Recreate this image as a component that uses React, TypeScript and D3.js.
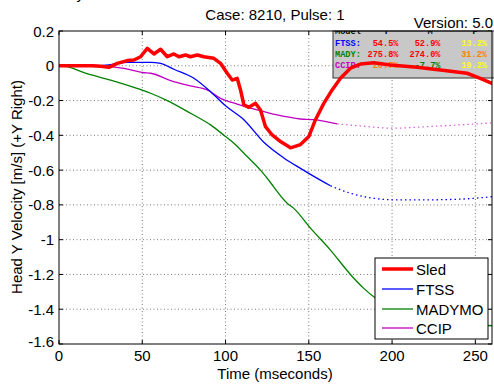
import React from "react";
import * as d3 from "d3";

const sledT = [0,10,20,25,30,35,41,45,49,53,57,61,65,69,72,76,79,83,87,93,97,101,104,107,109,111,114,118,121,124,128,133,139,145,150,154,159,164,169,175,181,189,199,215,229,245,253,261];
const sledV = [0,0,0,-0.003,-0.009,0.014,0.03,0.033,0.052,0.1,0.068,0.095,0.052,0.068,0.052,0.062,0.052,0.062,0.052,0.043,0.014,-0.043,-0.082,-0.072,-0.139,-0.225,-0.239,-0.216,-0.254,-0.35,-0.398,-0.436,-0.472,-0.453,-0.407,-0.31,-0.216,-0.139,-0.072,-0.014,0.01,0.018,0.005,-0.009,-0.024,-0.043,-0.072,-0.105];

const ftssT = [0,20,30,41,55,61,69,81,91,100,111,123,135,145,152,163];
const ftssV = [0,0,0.005,0.02,0.02,0.014,-0.02,-0.072,-0.149,-0.23,-0.31,-0.44,-0.53,-0.59,-0.63,-0.69];
const ftssDotT = [163,175,189,201,221,241,261];
const ftssDotV = [-0.69,-0.733,-0.762,-0.771,-0.771,-0.767,-0.752];

const madyT = [0,5,15,31,45,55,65,79,91,100,105,113,121,125,137,141,151,163,175,183,190,200,215,230,245,260];
const madyV = [0,-0.005,-0.04,-0.082,-0.124,-0.158,-0.2,-0.273,-0.34,-0.407,-0.445,-0.522,-0.6,-0.647,-0.79,-0.82,-0.934,-1.06,-1.2,-1.28,-1.336,-1.39,-1.44,-1.47,-1.485,-1.495];

const ccipT = [0,15,31,39,51,55,67,79,89,97,107,119,131,145,153,167];
const ccipV = [0,0.005,-0.005,-0.015,-0.04,-0.043,-0.085,-0.116,-0.139,-0.187,-0.22,-0.254,-0.283,-0.306,-0.31,-0.334];
const ccipDotT = [167,181,201,221,241,261];
const ccipDotV = [-0.334,-0.346,-0.359,-0.35,-0.34,-0.327];

const xTicks = [0, 50, 100, 150, 200, 250];
const yTicks = [0.2, 0, -0.2, -0.4, -0.6, -0.8, -1, -1.2, -1.4, -1.6];

const legendNames = ["Sled", "FTSS", "MADYMO", "CCIP"];
const legendColors = ["#ff0000", "#0000ff", "#008000", "#c000c0"];

const statHeader = ["Model", "T", "M", "P"];
const statRows = ["FTSS:", "MADY:", "CCIP:"];
const statRowColors = ["#0000ff", "#008000", "#c000c0"];
const statT = ["54.5%", "275.8%", "20.7%"];
const statM = ["52.9%", "274.0%", "-7.7%"];
const statP = ["13.2%", "31.2%", "19.2%"];
const statTColors = ["#ff0000", "#ff0000", "#ff8000"];
const statMColors = ["#ff0000", "#ff0000", "#008000"];
const statPColors = ["#ffff00", "#ff8000", "#ffff00"];

const L = 59, R = 492, T = 31, B = 344;

export default function App() {
  const x = d3.scaleLinear().domain([0, 260]).range([L, R]);
  const y = d3.scaleLinear().domain([-1.6, 0.2]).range([B, T]);
  const mk = (ts: number[], vs: number[], curve: any) =>
    d3.line<number>().x((_, i) => x(ts[i])).y((v) => y(v)).curve(curve)(vs) || "";
  const font = "'Liberation Sans', Arial, sans-serif";
  const mono = "'Liberation Mono', 'Courier New', monospace";
  const legendRowY = [270, 290, 310, 329];
  const statY = [46, 57, 68];
  return (
    <svg width={494} height={384} style={{ position: "absolute", left: 0, top: 0, background: "#fff" }} fontFamily={font}>
      <defs>
        <clipPath id="plotClip"><rect x={L} y={T} width={R - L} height={B - T} /></clipPath>
        <clipPath id="statClip"><rect x={333} y={31} width={161} height={47} /></clipPath>
      </defs>
      <rect x={0} y={0} width={494} height={384} fill="#fff" />
      <text x={84} y={-1} fontSize={15} textAnchor="end">Velocity</text>
      {/* grid */}
      {xTicks.filter((t) => t > 0).map((t) => (
        <line key={"gx" + t} x1={x(t)} x2={x(t)} y1={T} y2={B} stroke="#555" strokeWidth={0.8} strokeDasharray="1,2.5" />
      ))}
      {yTicks.filter((t) => t > -1.6 && t < 0.2).map((t) => (
        <line key={"gy" + t} x1={L} x2={R} y1={y(t)} y2={y(t)} stroke="#555" strokeWidth={0.8} strokeDasharray="1,2.5" />
      ))}
      {/* ticks */}
      {xTicks.map((t) => (
        <g key={"tx" + t}>
          <line x1={x(t)} x2={x(t)} y1={B} y2={B - 4} stroke="#000" />
          <line x1={x(t)} x2={x(t)} y1={T} y2={T + 4} stroke="#000" />
          <text x={x(t)} y={361} fontSize={15} textAnchor="middle">{t}</text>
        </g>
      ))}
      {yTicks.map((t) => (
        <g key={"ty" + t}>
          <line x1={L} x2={L + 4} y1={y(t)} y2={y(t)} stroke="#000" />
          <line x1={R} x2={R - 4} y1={y(t)} y2={y(t)} stroke="#000" />
          <text x={54} y={t === -1.6 ? y(t) + 3 : y(t) + 5.5} fontSize={15} textAnchor="end">{t === 0 ? "0" : String(t)}</text>
        </g>
      ))}
      {/* stats box */}
      <rect x={333} y={31} width={170} height={47} fill="#c8c8c8" stroke="#333" strokeWidth={1} />
      <g clipPath="url(#statClip)" fontFamily={mono} fontWeight="bold" fontSize={8.6}>
        <text x={335} y={34}>{statHeader[0]}</text>
        <text x={386} y={34} textAnchor="middle">{statHeader[1]}</text>
        <text x={430} y={34} textAnchor="middle">{statHeader[2]}</text>
        <text x={475} y={34} textAnchor="middle">{statHeader[3]}</text>
        {statRows.map((r, i) => (
          <g key={r}>
            <text x={335} y={statY[i]} fill={statRowColors[i]}>{r}</text>
            <text x={398.5} y={statY[i]} fill={statTColors[i]} textAnchor="end">{statT[i]}</text>
            <text x={440.5} y={statY[i]} fill={statMColors[i]} textAnchor="end">{statM[i]}</text>
            <text x={487} y={statY[i]} fill={statPColors[i]} textAnchor="end">{statP[i]}</text>
          </g>
        ))}
      </g>
      {/* series */}
      <g clipPath="url(#plotClip)" fill="none">
        <path d={mk(madyT, madyV, d3.curveMonotoneX)} stroke="#008000" strokeWidth={1.3} />
        <path d={mk(ccipT, ccipV, d3.curveMonotoneX)} stroke="#c000c0" strokeWidth={1.3} />
        <path d={mk(ccipDotT, ccipDotV, d3.curveMonotoneX)} stroke="#c000c0" strokeWidth={1.3} strokeDasharray="1.5,3" opacity={0.6} />
        <path d={mk(ftssT, ftssV, d3.curveMonotoneX)} stroke="#0000ff" strokeWidth={1.3} />
        <path d={mk(ftssDotT, ftssDotV, d3.curveMonotoneX)} stroke="#0000ff" strokeWidth={1.3} strokeDasharray="1.5,3" />
        <path d={mk(sledT, sledV, d3.curveLinear)} stroke="#ff0000" strokeWidth={3.5} strokeLinejoin="round" />
      </g>
      {/* frame */}
      <rect x={L} y={T} width={R - L} height={B - T} fill="none" stroke="#000" strokeWidth={1} />
      {/* legend */}
      <rect x={375} y={258} width={113} height={81} fill="#fff" stroke="#000" strokeWidth={1} />
      {legendNames.map((n, i) => (
        <g key={n}>
          <line x1={382} x2={413} y1={legendRowY[i] - 1} y2={legendRowY[i] - 1} stroke={legendColors[i]} strokeWidth={i === 0 ? 3.5 : 1.3} />
          <text x={416} y={legendRowY[i] + 5} fontSize={15}>{n}</text>
        </g>
      ))}
      {/* titles */}
      <text x={275} y={20} fontSize={15} textAnchor="middle">Case: 8210, Pulse: 1</text>
      <text x={493} y={28} fontSize={15} textAnchor="end">Version: 5.0</text>
      <text x={275} y={379} fontSize={15} textAnchor="middle">Time (mseconds)</text>
      <text transform="translate(22,187) rotate(-90)" fontSize={15} textAnchor="middle">Head Y Velocity [m/s] (+Y Right)</text>
    </svg>
  );
}
